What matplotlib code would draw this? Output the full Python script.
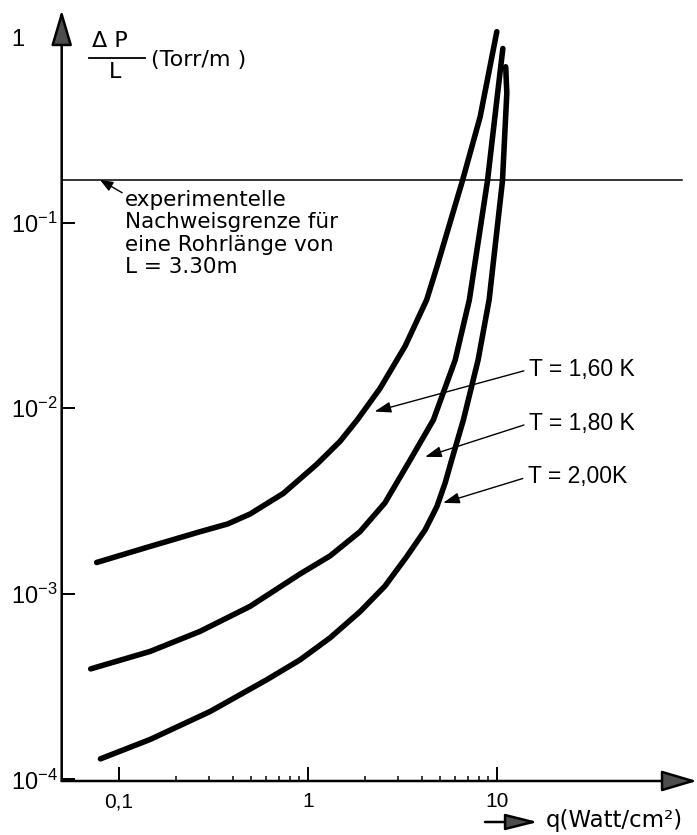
import matplotlib
matplotlib.use("Agg")
import matplotlib.pyplot as plt
from matplotlib.patches import FancyArrowPatch
from matplotlib.lines import Line2D
from matplotlib.ticker import FixedLocator, FixedFormatter, NullFormatter

# heat flux q (W/cm^2) and pressure gradient dP/L (Torr/m) for three bath temperatures
q_160 = [0.0762, 0.146, 0.268, 0.376, 0.493, 0.741, 1.11, 1.476, 1.82, 2.40, 3.26, 4.24, 4.80,
         6.55, 8.13, 9.96]
dp_160 = [1.475e-3, 1.80e-3, 2.16e-3, 2.38e-3, 2.69e-3, 3.48e-3, 4.98e-3, 6.63e-3, 8.65e-3,
          0.01277, 0.0216, 0.0384, 0.0577, 0.168, 0.372, 1.07]

q_180 = [0.0709, 0.146, 0.268, 0.493, 0.908, 1.307, 1.88, 2.55, 3.47, 4.60, 6.0, 7.13, 8.89,
         9.96, 10.72]
dp_180 = [3.94e-4, 4.89e-4, 6.27e-4, 8.55e-4, 1.28e-3, 1.60e-3, 2.16e-3, 3.09e-3, 5.27e-3,
          8.65e-3, 0.0182, 0.0384, 0.168, 0.457, 0.868]

q_200 = [0.0798, 0.146, 0.303, 0.604, 0.908, 1.307, 1.88, 2.55, 3.33, 4.16, 4.80, 5.31, 5.75,
         6.63, 7.93, 9.07, 10.67, 11.25, 11.1]
dp_200 = [1.29e-4, 1.64e-4, 2.32e-4, 3.44e-4, 4.41e-4, 5.79e-4, 8.0e-4, 1.10e-3, 1.59e-3,
          2.21e-3, 2.95e-3, 3.96e-3, 5.27e-3, 8.65e-3, 0.0182, 0.0384, 0.168, 0.499, 0.692]

labels = ["T = 1,60 K", "T = 1,80 K", "T = 2,00K"]
label_tips = [(2.25, 9.6e-3), (4.16, 5.47e-3), (5.18, 3.09e-3)]
label_pos = [(14.8, 0.0162), (14.8, 8.3e-3), (14.6, 4.27e-3)]

detection_limit = 0.17   # Torr/m, 3.30 m tube

x_major = [0.1, 1, 10]
x_major_labels = ["0,1", "1", "10"]
x_minor = [0.2, 0.3, 0.4, 0.5, 0.6, 0.7, 0.8, 0.9, 2, 3, 4, 5, 6, 7, 8, 9]
y_major = [1e-4, 1e-3, 1e-2, 1e-1, 1]
y_major_labels = [r"$10^{-4}$", r"$10^{-3}$", r"$10^{-2}$", r"$10^{-1}$", "1"]

NUMFONT = ["Liberation Sans", "DejaVu Sans"]
plt.rcParams["mathtext.fontset"] = "custom"
plt.rcParams["mathtext.rm"] = "Liberation Sans"
plt.rcParams["mathtext.default"] = "rm"

W, H = 697, 835
fig = plt.figure(figsize=(W / 100, H / 100), dpi=100)


def fx(px):
    return px / W


def fy(py):
    return 1 - py / H


ax = fig.add_axes([fx(61.7), fy(781), fx(697) - fx(61.7), fy(10) - fy(781)])
ax.set_xscale("log")
ax.set_yscale("log")
ax.set_xlim(0.0498, 114)
ax.set_ylim(0.98e-4, 1.40)
for s in ax.spines.values():
    s.set_visible(False)

# axes drawn as arrows
for start, end in [((0, 0), (1, 0)), ((0, 0), (0, 1))]:
    arr = FancyArrowPatch(start, end, transform=ax.transAxes,
                          arrowstyle="-|>,head_length=22,head_width=6.5",
                          mutation_scale=1, lw=1.8, ec="black", fc="0.3",
                          shrinkA=0, shrinkB=0, clip_on=False, zorder=5)
    ax.add_patch(arr)

ax.xaxis.set_major_locator(FixedLocator(x_major))
ax.xaxis.set_major_formatter(FixedFormatter(x_major_labels))
ax.xaxis.set_minor_locator(FixedLocator(x_minor))
ax.xaxis.set_minor_formatter(NullFormatter())
ax.yaxis.set_major_locator(FixedLocator([v for v in y_major if v < 1]))
ax.yaxis.set_major_formatter(NullFormatter())
ax.yaxis.set_minor_locator(FixedLocator([]))

ax.tick_params(axis="x", which="major", direction="in", length=10, width=1.4,
               pad=8, labelsize=15, labelfontfamily=NUMFONT)
ax.tick_params(axis="x", which="minor", direction="in", length=3.5, width=1.1)
ax.tick_params(axis="y", which="major", direction="in", length=9.5, width=1.4)

# y tick labels, left aligned in a column
ytrans = ax.get_yaxis_transform()
for v, lab in zip(y_major, y_major_labels):
    ax.text(-0.08, v, lab, transform=ytrans, ha="left", va="center_baseline",
            fontsize=17, family=NUMFONT)

# curves
for q, dp in [(q_160, dp_160), (q_180, dp_180), (q_200, dp_200)]:
    ax.plot(q, dp, color="black", lw=4.0, solid_capstyle="round",
            solid_joinstyle="round", zorder=3)

# detection limit
ax.plot([0.0498, 95], [detection_limit, detection_limit], color="black", lw=1.1)
ax.annotate("experimentelle\nNachweisgrenze für\neine Rohrlänge von\nL = 3.30m",
            xy=(0.0794, detection_limit), xytext=(0.1076, 0.150),
            ha="left", va="top", fontsize=15.5, linespacing=1.15,
            family="DejaVu Sans",
            arrowprops=dict(arrowstyle="-|>,head_length=0.5,head_width=0.2",
                            color="black", lw=1.0, shrinkA=0, shrinkB=0,
                            relpos=(0, 0.95)))

# temperature labels
for text, tip, pos in zip(labels, label_tips, label_pos):
    ax.annotate(text, xy=tip, xytext=pos, ha="left", va="center",
                fontsize=16.5, family=NUMFONT,
                arrowprops=dict(arrowstyle="-|>,head_length=0.6,head_width=0.2",
                                color="black", lw=1.0, shrinkA=2, shrinkB=0,
                                relpos=(0, 0.5)))

# y-axis quantity
fig.text(fx(110), fy(41), "Δ P", ha="center", va="center", fontsize=16)
fig.add_artist(Line2D([fx(89), fx(145)], [fy(58), fy(58)], color="black", lw=1.3))
fig.text(fx(115), fy(72), "L", ha="center", va="center", fontsize=16)
fig.text(fx(151), fy(60), "(Torr/m )", ha="left", va="center", fontsize=16)

# x-axis quantity with its arrow
fig.add_artist(FancyArrowPatch((fx(485), fy(822)), (fx(538), fy(822)),
                               transform=fig.transFigure,
                               arrowstyle="-|>,head_length=20,head_width=5",
                               mutation_scale=1, lw=1.8, ec="black", fc="0.3",
                               shrinkA=0, shrinkB=0))
fig.text(fx(546), fy(821), "q(Watt/cm²)", ha="left", va="center", fontsize=16.5)

fig.savefig("out.png", dpi=100)
